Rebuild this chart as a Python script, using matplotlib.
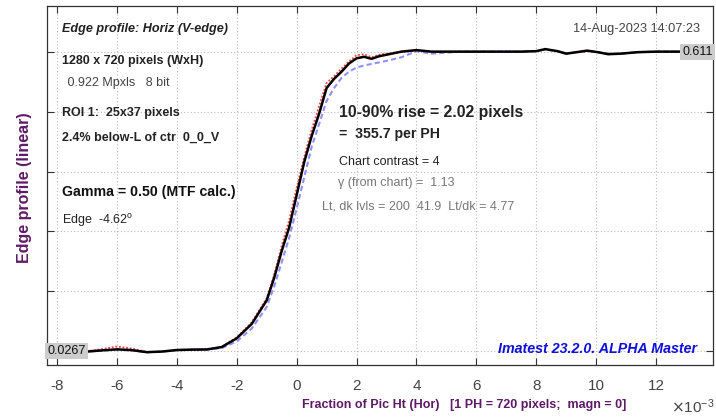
import matplotlib
matplotlib.use("Agg")
import matplotlib.pyplot as plt

plt.rcParams['font.family'] = ['Liberation Sans', 'DejaVu Sans']

# x in units of 1e-3 fraction of picture height
x_vals = [-8.33, -7.5, -7.0, -6.5, -6.0, -5.5, -5.0, -4.5, -4.0, -3.5, -3.0, -2.5,
          -2.0, -1.5, -1.0, -0.75, -0.5, -0.25, 0.0, 0.25, 0.5, 0.75, 1.0, 1.25,
          1.5, 1.75, 2.0, 2.25, 2.5, 2.75, 3.0, 3.5, 4.0, 4.5, 5.0, 5.5, 6.0, 7.0,
          7.5, 8.0, 8.3, 8.7, 9.0, 9.35, 9.7, 10.05, 10.4, 10.8, 11.4, 12.0, 13.0, 13.89]

black_vals = [0.0267, 0.0262, 0.0262, 0.0285, 0.0305, 0.0290, 0.0250, 0.0262, 0.0292,
              0.0300, 0.0303, 0.0350, 0.0520, 0.0800, 0.126, 0.170, 0.222, 0.268,
              0.331, 0.395, 0.446, 0.490, 0.540, 0.558, 0.572, 0.588, 0.598, 0.601,
              0.597, 0.602, 0.605, 0.611, 0.614, 0.611, 0.611, 0.611, 0.611, 0.611,
              0.611, 0.612, 0.616, 0.612, 0.607, 0.610, 0.613, 0.610, 0.606, 0.607,
              0.610, 0.611, 0.611, 0.611]

red_vals = [0.0267, 0.0265, 0.0270, 0.0310, 0.0360, 0.0320, 0.0255, 0.0262, 0.0292,
            0.0300, 0.0303, 0.0355, 0.0540, 0.0830, 0.130, 0.176, 0.232, 0.282,
            0.345, 0.405, 0.458, 0.505, 0.550, 0.563, 0.578, 0.592, 0.604, 0.606,
            0.600, 0.605, 0.607, 0.611, 0.613, 0.611, 0.611, 0.611, 0.611, 0.611,
            0.611, 0.612, 0.615, 0.612, 0.608, 0.610, 0.612, 0.610, 0.607, 0.607,
            0.610, 0.611, 0.611, 0.611]

blue_vals = [0.0267, 0.0262, 0.0262, 0.0280, 0.0300, 0.0285, 0.0250, 0.0260, 0.0288,
             0.0295, 0.0298, 0.0330, 0.0460, 0.0710, 0.113, 0.153, 0.200, 0.248,
             0.305, 0.365, 0.425, 0.470, 0.515, 0.540, 0.560, 0.572, 0.580, 0.584,
             0.587, 0.590, 0.593, 0.600, 0.612, 0.607, 0.609, 0.611, 0.611, 0.611,
             0.611, 0.612, 0.615, 0.612, 0.608, 0.610, 0.612, 0.610, 0.607, 0.607,
             0.610, 0.611, 0.611, 0.611]

x_ticks = [-8, -6, -4, -2, 0, 2, 4, 6, 8, 10, 12]
low_level = 0.0267
high_level = 0.611
y_ticks = [low_level + k * (high_level - low_level) / 5 for k in range(6)]

purple = '#5e1a66'

fig = plt.figure(figsize=(7.16, 4.19), dpi=100)
ax = fig.add_axes([47 / 716, 54 / 419, 665.7 / 716, 359 / 419])

ax.plot(x_vals, blue_vals, color='#9090ff', lw=1.5, ls=(0, (2.5, 1.5)), zorder=3)
ax.plot(x_vals, red_vals, color='#ff4040', lw=1.3, ls=(0, (1, 1)), zorder=3)
ax.plot(x_vals, black_vals, color='black', lw=1.8, zorder=4)

ax.set_xlim(-6 / 720 * 1000, 10 / 720 * 1000)
ax.set_ylim(0, 0.70)
ax.set_xticks(x_ticks)
ax.set_xticklabels([str(t) for t in x_ticks])
ax.set_yticks(y_ticks)
ax.set_yticklabels([])
ax.tick_params(direction='in', top=True, right=True, length=5, width=0.8,
               colors='#333333', labelcolor='#444444', labelsize=11, pad=10)
ax.grid(True, color='#bbbbbb', ls=(0, (1, 2)), lw=0.8)
for s in ax.spines.values():
    s.set_color('#333333')
    s.set_linewidth(0.9)

ax.set_ylabel('Edge profile (linear)', color=purple, fontsize=11.5, fontweight='bold')
ax.yaxis.set_label_coords(-0.022, 0.495)
fig.text(464 / 716, 1 - 405 / 419, 'Fraction of Pic Ht (Hor)   [1 PH = 720 pixels;  magn = 0]',
         color=purple, fontsize=9, fontweight='bold', ha='center', va='center')
fig.text(714 / 716, 1 - 407 / 419, r'$\times\mathregular{10^{-3}}$', color='#444444', fontsize=11,
         ha='right', va='center')

def ftext(px, py, s, **kw):
    kw.setdefault('ha', 'left')
    kw.setdefault('va', 'center')
    fig.text(px / 716, 1 - py / 419, s, **kw)

ftext(62, 29, 'Edge profile: Horiz (V-edge)', fontsize=9.1, fontweight='bold', style='italic', color='#222222')
ftext(62, 61, '1280 x 720 pixels (WxH)', fontsize=9, fontweight='bold', color='#222222')
ftext(64, 83, ' 0.922 Mpxls   8 bit', fontsize=9, color='#444444')
ftext(62, 113, 'ROI 1:  25x37 pixels', fontsize=9, fontweight='bold', color='#222222')
ftext(62, 138, '2.4% below-L of ctr  0_0_V', fontsize=9, fontweight='bold', color='#222222')
ftext(62, 192, 'Gamma = 0.50 (MTF calc.)', fontsize=10.2, fontweight='bold', color='#111111')
ftext(62, 220, r'Edge  -4.62$^\mathregular{o}$', fontsize=9, color='#222222')
ftext(700, 29, '14-Aug-2023 14:07:23', fontsize=9.2, color='#444444', ha='right')
ftext(339, 113, '10-90% rise = 2.02 pixels', fontsize=11.3, fontweight='bold', color='#222222')
ftext(339, 134, '=  355.7 per PH', fontsize=10.2, fontweight='bold', color='#222222')
ftext(339, 162, 'Chart contrast = 4', fontsize=9, color='#222222')
ftext(338, 183, 'γ (from chart) =  1.13', fontsize=9, color='#777777')
ftext(322, 206, 'Lt, dk lvls = 200  41.9  Lt/dk = 4.77', fontsize=9, color='#777777')
ftext(697, 349, 'Imatest 23.2.0. ALPHA Master', fontsize=10.3, fontweight='bold', style='italic',
      color='#1010dd', ha='right')

# level labels with gray boxes, anchored on the data levels
ax.text(x_vals[0], low_level, '0.0267', fontsize=9, color='#111111', ha='left', va='center',
        bbox=dict(facecolor='#cccccc', edgecolor='none', pad=1.5), zorder=5)
ax.text(x_vals[-1], high_level, '0.611', fontsize=9, color='#111111', ha='right', va='center',
        bbox=dict(facecolor='#cccccc', edgecolor='none', pad=1.5), zorder=5)

fig.savefig('out.png', dpi=100)
